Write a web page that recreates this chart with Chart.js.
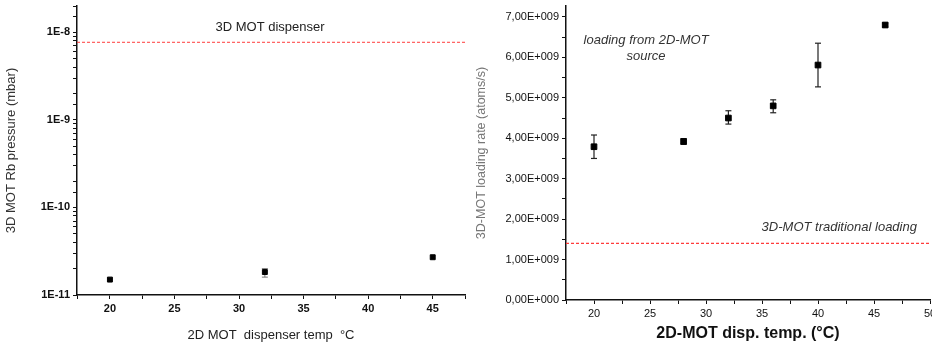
<!DOCTYPE html>
<html>
<head>
<meta charset="utf-8">
<script src="https://cdn.jsdelivr.net/npm/chart.js@4/dist/chart.umd.min.js"></script>
<style>
  html, body { margin: 0; padding: 0; background: #fff; overflow: hidden; }
  #wrap { position: relative; width: 932px; height: 347px; overflow: hidden; }
  #left { position: absolute; left: 0; top: 0; width: 470px; height: 347px; }
  #right { position: absolute; left: 460px; top: 0; width: 480px; height: 347px; }
</style>
</head>
<body>
<div id="wrap">
  <div id="left"><canvas id="pressureChart"></canvas></div>
  <div id="right"><canvas id="loadingChart"></canvas></div>
</div>
<script>
// left panel: 3D MOT Rb pressure vs 2D MOT dispenser temp
const tempsP = [20, 32, 45];
const pressure = [1.5e-11, 1.83e-11, 2.7e-11];
const pressureLo = [1.5e-11, 1.6e-11, 2.7e-11];
const pressureHi = [1.5e-11, 2.0e-11, 2.7e-11];
const dispenserLevel = 7.7e-9;

// right panel: 3D-MOT loading rate vs 2D-MOT disp. temp
const tempsL = [20, 28, 32, 36, 40, 46];
const loadRate = [3.79e9, 3.92e9, 4.5e9, 4.8e9, 5.81e9, 6.8e9];
const loadLo = [3.5e9, 3.85e9, 4.35e9, 4.63e9, 5.27e9, 6.75e9];
const loadHi = [4.08e9, 3.99e9, 4.68e9, 4.95e9, 6.35e9, 6.85e9];
const traditionalLevel = 1.4e9;

// tick values / labels of the right y axis
const rateTicks = [0, 0.5e9, 1e9, 1.5e9, 2e9, 2.5e9, 3e9, 3.5e9, 4e9, 4.5e9, 5e9, 5.5e9, 6e9, 6.5e9, 7e9];
const rateLabels = ['0,00E+000', '', '1,00E+009', '', '2,00E+009', '', '3,00E+009', '', '4,00E+009', '', '5,00E+009', '', '6,00E+009', '', '7,00E+009'];

const notesLeft = [{ text: '3D MOT dispenser', x: 32.4, y: 1.14e-8, italic: false }];
const notesRight = [
  { text: 'loading from 2D-MOT', x: 24.65, y: 6.43e9, italic: true },
  { text: 'source', x: 24.65, y: 6.03e9, italic: true },
  { text: '3D-MOT traditional loading', x: 41.9, y: 1.8e9, italic: true }
];

const FONT = "'Liberation Sans', Arial, sans-serif";

function points(xs, ys) {
  return xs.map((x, i) => ({ x: x, y: ys[i] }));
}
function errorPoints(xs, lo, hi) {
  const out = [];
  xs.forEach((x, i) => {
    if (hi[i] - lo[i] <= 0) return;
    out.push({ x: x, y: lo[i] }, { x: x, y: hi[i] }, { x: x, y: null });
  });
  return out;
}

// draws text notes in data coordinates
const notesPlugin = {
  id: 'notes',
  afterDatasetsDraw(chart, args, opts) {
    const ctx = chart.ctx;
    ctx.save();
    ctx.fillStyle = opts.color || '#222';
    ctx.textAlign = 'center';
    ctx.textBaseline = 'middle';
    (opts.items || []).forEach(n => {
      ctx.font = (n.italic ? 'italic ' : '') + opts.size + 'px ' + FONT;
      ctx.fillText(n.text, chart.scales.x.getPixelForValue(n.x), chart.scales.y.getPixelForValue(n.y));
    });
    ctx.restore();
  }
};

const axisBase = {
  border: { display: true, color: '#111', width: 1.5 },
  grid: { drawOnChartArea: false, drawTicks: true, tickLength: 4, color: '#111' }
};

new Chart(document.getElementById('pressureChart').getContext('2d'), {
  type: 'scatter',
  plugins: [notesPlugin],
  data: {
    datasets: [{
      label: 'pressure',
      data: points(tempsP, pressure),
      pointStyle: 'rect',
      pointRadius: 3.5,
      backgroundColor: '#000',
      borderColor: '#000'
    }, {
      label: 'errors',
      data: errorPoints(tempsP, pressureLo, pressureHi),
      showLine: true,
      spanGaps: false,
      borderColor: '#777',
      borderWidth: 1,
      pointStyle: 'line',
      pointRadius: 3,
      pointBorderColor: '#777'
    }, {
      label: '3D MOT dispenser',
      data: [{ x: 17.45, y: dispenserLevel }, { x: 47.5, y: dispenserLevel }],
      showLine: true,
      borderColor: '#ff3b3b',
      borderWidth: 1,
      borderDash: [3, 2],
      pointRadius: 0
    }]
  },
  options: {
    responsive: true,
    maintainAspectRatio: false,
    animation: false,
    layout: { padding: { top: 6, right: 5, left: 0, bottom: 0 } },
    plugins: {
      legend: { display: false },
      tooltip: { enabled: false },
      notes: { items: notesLeft, size: 13, color: '#222' }
    },
    scales: {
      x: {
        ...axisBase,
        min: 17.45,
        max: 47.5,
        afterFit: s => { s.height = 52; },
        ticks: {
          stepSize: 2.5,
          autoSkip: false,
          maxRotation: 0,
          color: '#111',
          font: { family: FONT, size: 11, weight: 'bold' },
          callback: v => (v % 5 === 0 ? String(v) : '')
        },
        title: {
          display: true,
          text: '2D MOT  dispenser temp  °C',
          color: '#222',
          font: { family: FONT, size: 13 },
          padding: { top: 6 }
        }
      },
      y: {
        ...axisBase,
        type: 'logarithmic',
        min: 1e-11,
        max: 2e-8,
        afterFit: s => { s.width = 77; s.paddingTop = 0; },
        ticks: {
          autoSkip: false,
          color: '#111',
          font: { family: FONT, size: 11, weight: 'bold' },
          callback: v => {
            const e = Math.log10(v);
            return Math.abs(e - Math.round(e)) < 1e-6 ? '1E' + Math.round(e) : '';
          }
        },
        title: {
          display: true,
          text: '3D MOT Rb pressure (mbar)',
          color: '#333',
          font: { family: FONT, size: 13 },
          padding: { bottom: 8 }
        }
      }
    }
  }
});

new Chart(document.getElementById('loadingChart').getContext('2d'), {
  type: 'scatter',
  plugins: [notesPlugin],
  data: {
    datasets: [{
      label: 'loading rate',
      data: points(tempsL, loadRate),
      pointStyle: 'rect',
      pointRadius: 4,
      backgroundColor: '#000',
      borderColor: '#000'
    }, {
      label: 'errors',
      data: errorPoints(tempsL, loadLo, loadHi),
      showLine: true,
      spanGaps: false,
      borderColor: '#222',
      borderWidth: 1.2,
      pointStyle: 'line',
      pointRadius: 3,
      pointBorderColor: '#222'
    }, {
      label: 'traditional loading',
      data: [{ x: 17.5, y: traditionalLevel }, { x: 50, y: traditionalLevel }],
      showLine: true,
      borderColor: '#ff3b3b',
      borderWidth: 1.2,
      borderDash: [3, 2],
      pointRadius: 0
    }]
  },
  options: {
    responsive: true,
    maintainAspectRatio: false,
    animation: false,
    layout: { padding: { top: 6, right: 10, left: 0, bottom: 0 } },
    plugins: {
      legend: { display: false },
      tooltip: { enabled: false },
      notes: { items: notesRight, size: 13, color: '#333' }
    },
    scales: {
      x: {
        ...axisBase,
        min: 17.5,
        max: 50,
        afterFit: s => { s.height = 47; },
        ticks: {
          stepSize: 2.5,
          autoSkip: false,
          maxRotation: 0,
          color: '#111',
          font: { family: FONT, size: 11 },
          callback: v => (v % 5 === 0 ? String(v) : '')
        },
        title: {
          display: true,
          text: '2D-MOT disp. temp. (°C)',
          color: '#111',
          font: { family: FONT, size: 16, weight: 'bold' },
          padding: { top: 4 }
        }
      },
      y: {
        ...axisBase,
        min: 0,
        max: 7.27e9,
        afterFit: s => { s.width = 106; s.paddingTop = 0; },
        afterBuildTicks: s => { s.ticks = rateTicks.map(v => ({ value: v })); },
        ticks: {
          autoSkip: false,
          color: '#111',
          font: { family: FONT, size: 11 },
          callback: (v, i) => rateLabels[i]
        },
        title: {
          display: true,
          text: '3D-MOT loading rate (atoms/s)',
          color: '#777',
          font: { family: FONT, size: 12.5 },
          padding: { top: 14, bottom: 4 }
        }
      }
    }
  }
});
</script>
</body>
</html>
